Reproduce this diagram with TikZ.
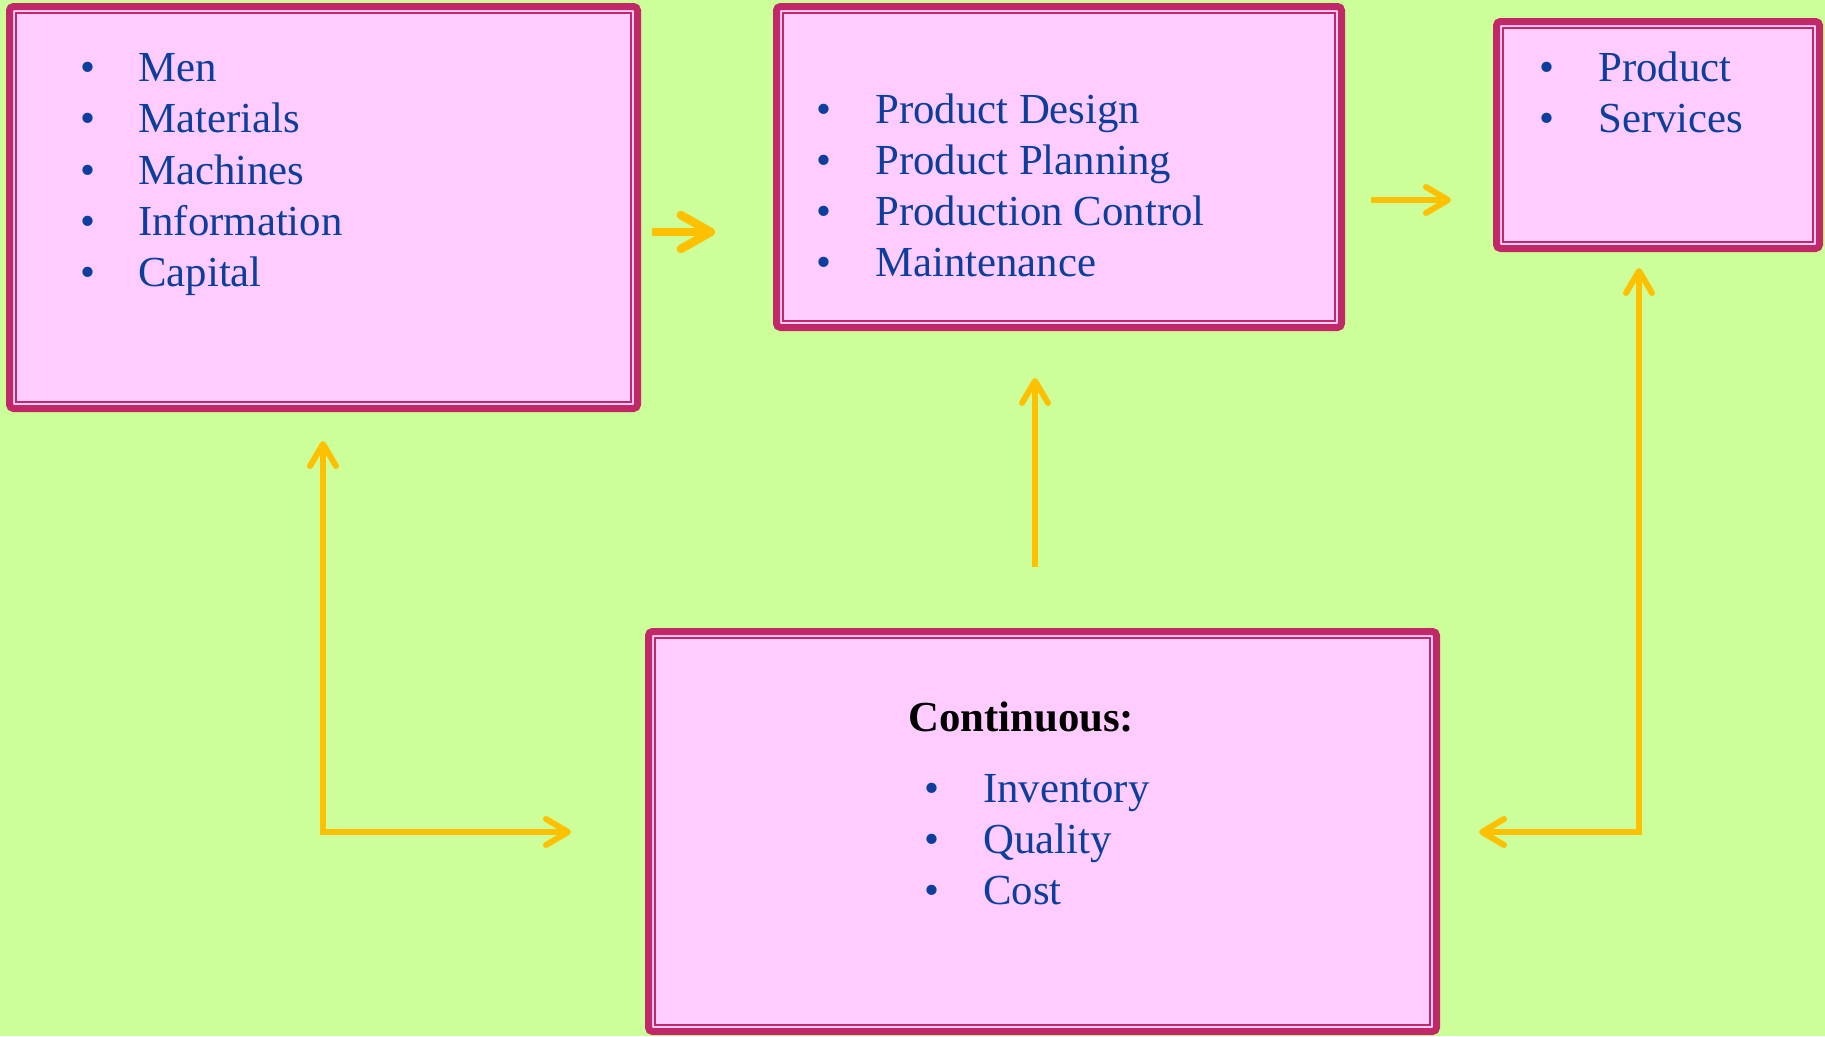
\documentclass[tikz,border=0pt]{standalone}
\usepackage{fontspec}
\setmainfont{Liberation Serif}
\usetikzlibrary{arrows.meta}
\definecolor{bgcol}{HTML}{CCFF99}
\definecolor{boxfill}{HTML}{FFCCFF}
\definecolor{boxline}{RGB}{192,40,104}
\definecolor{arrowcol}{HTML}{FFC000}
\definecolor{itemcol}{RGB}{12,62,158}
\tikzset{
  box/.style={draw=boxline, fill=boxfill, line width=7pt, rounded corners=4pt,
    inner sep=0pt, outer sep=0pt},
  innerline/.style={draw=boxline, line width=2pt},
  itemtext/.style={anchor=base west, inner sep=0pt, text=itemcol,
    font=\fontsize{42.8pt}{51pt}\selectfont},
  headtext/.style={anchor=base west, inner sep=0pt, text=black,
    font=\fontsize{42.8pt}{51pt}\selectfont\bfseries},
  flow/.style={draw=arrowcol, line width=6pt,
    arrows={-Straight Barb[length=22pt, width=26pt, round]}},
  bigflow/.style={draw=arrowcol, line width=8.5pt,
    arrows={-Straight Barb[length=30pt, width=34pt, round]}},
  twoway/.style={draw=arrowcol, line width=6pt, line join=miter,
    arrows={Straight Barb[length=22pt, width=26pt, round]-Straight Barb[length=22pt, width=26pt, round]}}
}
\newcommand{\innerframe}[1]{%
  \draw[innerline] ([shift={(6.5pt,-6.5pt)}]#1.north west) rectangle ([shift={(-6.5pt,6.5pt)}]#1.south east);}
\begin{document}
\begin{tikzpicture}[x=1pt, y=-1pt]
  \fill[bgcol] (0,0) rectangle (1825,1036);
  \useasboundingbox (0,0) rectangle (1825,1036);

  % the four boxes
  \node[box, minimum width=628pt, minimum height=402pt] (resources) at (323.5,207.5) {};
  \innerframe{resources}
  \node[box, minimum width=565pt, minimum height=321pt] (process) at (1059,167) {};
  \innerframe{process}
  \node[box, minimum width=323pt, minimum height=227pt] (output) at (1658,135) {};
  \innerframe{output}
  \node[box, minimum width=788pt, minimum height=400pt] (control) at (1042.5,831.5) {};
  \innerframe{control}

  % inputs
  \node[itemtext] (r1b) at (80,81)  {•};  \node[itemtext] (r1) at (138,81)  {Men};
  \node[itemtext] (r2b) at (80,132) {•};  \node[itemtext] (r2) at (138,132) {Materials};
  \node[itemtext] (r3b) at (80,184) {•};  \node[itemtext] (r3) at (138,184) {Machines};
  \node[itemtext] (r4b) at (80,235) {•};  \node[itemtext] (r4) at (138,235) {Information};
  \node[itemtext] (r5b) at (80,286) {•};  \node[itemtext] (r5) at (138,286) {Capital};

  % conversion
  \node[itemtext] (p1b) at (816,123) {•};  \node[itemtext] (p1) at (875,123) {Product Design};
  \node[itemtext] (p2b) at (816,174) {•};  \node[itemtext] (p2) at (875,174) {Product Planning};
  \node[itemtext] (p3b) at (816,225) {•};  \node[itemtext] (p3) at (875,225) {Production Control};
  \node[itemtext] (p4b) at (816,276) {•};  \node[itemtext] (p4) at (875,276) {Maintenance};

  % outputs
  \node[itemtext] (o1b) at (1539,81)  {•};  \node[itemtext] (o1) at (1598,81)  {Product};
  \node[itemtext] (o2b) at (1539,132) {•};  \node[itemtext] (o2) at (1598,132) {Services};

  % control
  \node[headtext] (head) at (908,731) {Continuous:};
  \node[itemtext] (c1b) at (924,802) {•};  \node[itemtext] (c1) at (983,802) {Inventory};
  \node[itemtext] (c2b) at (924,853) {•};  \node[itemtext] (c2) at (983,853) {Quality};
  \node[itemtext] (c3b) at (924,904) {•};  \node[itemtext] (c3) at (983,904) {Cost};

  % connector end points
  \coordinate (a1s) at (652,232);  \coordinate (a1e) at (715,232);
  \coordinate (a2s) at (1371,200); \coordinate (a2e) at (1451,200);
  \coordinate (a3s) at (1035,567); \coordinate (a3e) at (1035,378);
  \coordinate (lt) at (323,441);  \coordinate (lc) at (323,832);  \coordinate (lr) at (571,832);
  \coordinate (rt) at (1639,268); \coordinate (rc) at (1639,832); \coordinate (rl) at (1479,832);

  % connectors
  \draw[bigflow] (a1s) -- (a1e);
  \draw[flow] (a2s) -- (a2e);
  \draw[flow] (a3s) -- (a3e);
  \draw[twoway] (lt) -- (lc) -- (lr);
  \draw[twoway] (rt) -- (rc) -- (rl);
\end{tikzpicture}
\end{document}
